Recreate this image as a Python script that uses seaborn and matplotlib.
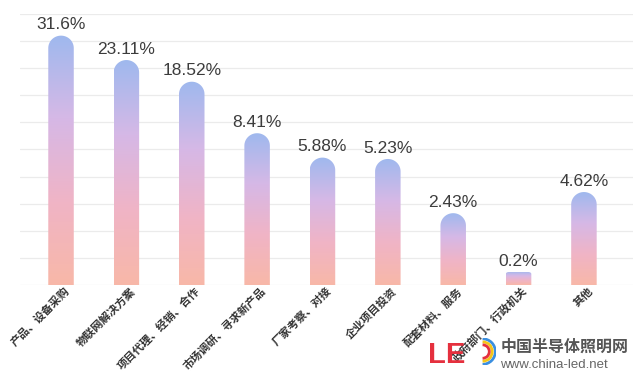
"""
展会观众参观目的分布 - 渐变圆头柱状图
"""

import numpy as np
import matplotlib.pyplot as plt
import seaborn as sns
from matplotlib.path import Path
from matplotlib.patches import PathPatch, Arc
from matplotlib.colors import LinearSegmentedColormap
from matplotlib.transforms import ScaledTranslation

sns.set_theme(style="white")
plt.rcParams["font.family"] = ["Noto Sans CJK SC", "DejaVu Sans"]

# ── Data ────────────────────────────────────────────────────────────────────
categories = ["产品、设备采购", "物联网解决方案", "项目代理、经销、合作",
              "市场调研、寻求新产品", "厂家考察、对接", "企业项目投资",
              "配套材料、服务", "政府部门、行政机关", "其他"]
shares = [31.6, 23.11, 18.52, 8.41, 5.88, 5.23, 2.43, 0.2, 4.62]
# bar heights as drawn in the picture (not linear in the shares), in gridline units
bar_heights = [9.2, 8.3, 7.5, 5.6, 4.7, 4.65, 2.65, 0.48, 3.43]

grad = LinearSegmentedColormap.from_list(
    "bar_grad", ["#f8b8a8", "#f0b4c6", "#d6b8e6", "#9fb9ee"])

# ── Figure ──────────────────────────────────────────────────────────────────
fig = plt.figure(figsize=(6.4, 3.77), dpi=100)
ax = fig.add_axes([0.031, 0.244, 0.958, 0.719])

sns.barplot(x=categories, y=bar_heights, ax=ax, width=0.39, color="#c8bce6")

# horizontal grid
for g in range(0, 11):
    ax.axhline(g, color="#ebebeb", lw=0.9, zorder=0)

# replace each bar with a gradient fill and a rounded top
ry_full = 0.46
for patch, share in zip(ax.patches, shares):
    x0, w, h = patch.get_x(), patch.get_width(), patch.get_height()
    patch.set_visible(False)
    cx = x0 + w / 2
    ry = ry_full if h > 2 * ry_full else h * 0.15
    t = np.linspace(0, np.pi, 40)
    if h > 2 * ry_full:
        arc_x = cx + (w / 2) * np.cos(t)
        arc_y = h - ry + ry * np.sin(t)
    else:
        # tiny bar: flat top with slightly rounded corners
        rx = w * 0.12
        tr = np.linspace(0, np.pi / 2, 10)
        tl = np.linspace(np.pi / 2, np.pi, 10)
        arc_x = np.concatenate([x0 + w - rx + rx * np.cos(tr), x0 + rx + rx * np.cos(tl)])
        arc_y = np.concatenate([h - ry + ry * np.sin(tr), h - ry + ry * np.sin(tl)])
    verts = [(x0, 0), (x0 + w, 0)] + list(zip(arc_x, arc_y)) + [(x0, 0)]
    codes = [Path.MOVETO] + [Path.LINETO] * (len(verts) - 2) + [Path.CLOSEPOLY]
    clip = PathPatch(Path(verts, codes), transform=ax.transData,
                     facecolor="none", edgecolor="none")
    ax.add_patch(clip)
    img = ax.imshow(np.linspace(0, 1, 256).reshape(-1, 1), cmap=grad,
                    extent=[x0, x0 + w, 0, h], origin="lower",
                    aspect="auto", zorder=2)
    img.set_clip_path(clip)
    ax.text(cx, h + 0.12, f"{share}%", ha="center", va="bottom",
            fontsize=12.5, color="#3c3c3c", family=["Liberation Sans", "DejaVu Sans"])

ax.set_xlim(-0.63, 8.75)
ax.set_ylim(0, 10)
ax.set_yticks([])
ax.set_xlabel("")
sns.despine(ax=ax, left=True, bottom=True)

ax.tick_params(axis="x", length=0, pad=3)
offset = ScaledTranslation(5 / 72, 0, fig.dpi_scale_trans)
for lbl in ax.get_xticklabels():
    lbl.set_rotation(45)
    lbl.set_ha("right")
    lbl.set_va("center")
    lbl.set_rotation_mode("anchor")
    lbl.set_fontsize(8)
    lbl.set_fontweight("bold")
    lbl.set_color("#333333")
    lbl.set_transform(lbl.get_transform() + offset)

# ── Watermark ───────────────────────────────────────────────────────────────
fig.text(0.668, 0.036, "LE", fontsize=21, fontweight="bold", color="#e5303e",
         family=["Liberation Sans", "DejaVu Sans"])
lax = fig.add_axes([0.733, 0.03, 0.042, 0.075])
lax.set_aspect("equal")
lax.set_xlim(-1, 1)
lax.set_ylim(-1, 1)
lax.axis("off")
for r, c in [(0.95, "#3b8fe0"), (0.72, "#f5c518"), (0.5, "#e5303e")]:
    lax.add_patch(Arc((0, 0), 2 * r, 2 * r, theta1=-90, theta2=90, color=c, lw=2))
fig.text(0.782, 0.068, "中国半导体照明网", fontsize=11.5, fontweight="bold", color="#555555")
fig.text(0.782, 0.024, "www.china-led.net", fontsize=9.5, color="#666666",
         family=["Liberation Sans", "DejaVu Sans"])

fig.patch.set_facecolor("white")
plt.savefig("out.png", dpi=100)
